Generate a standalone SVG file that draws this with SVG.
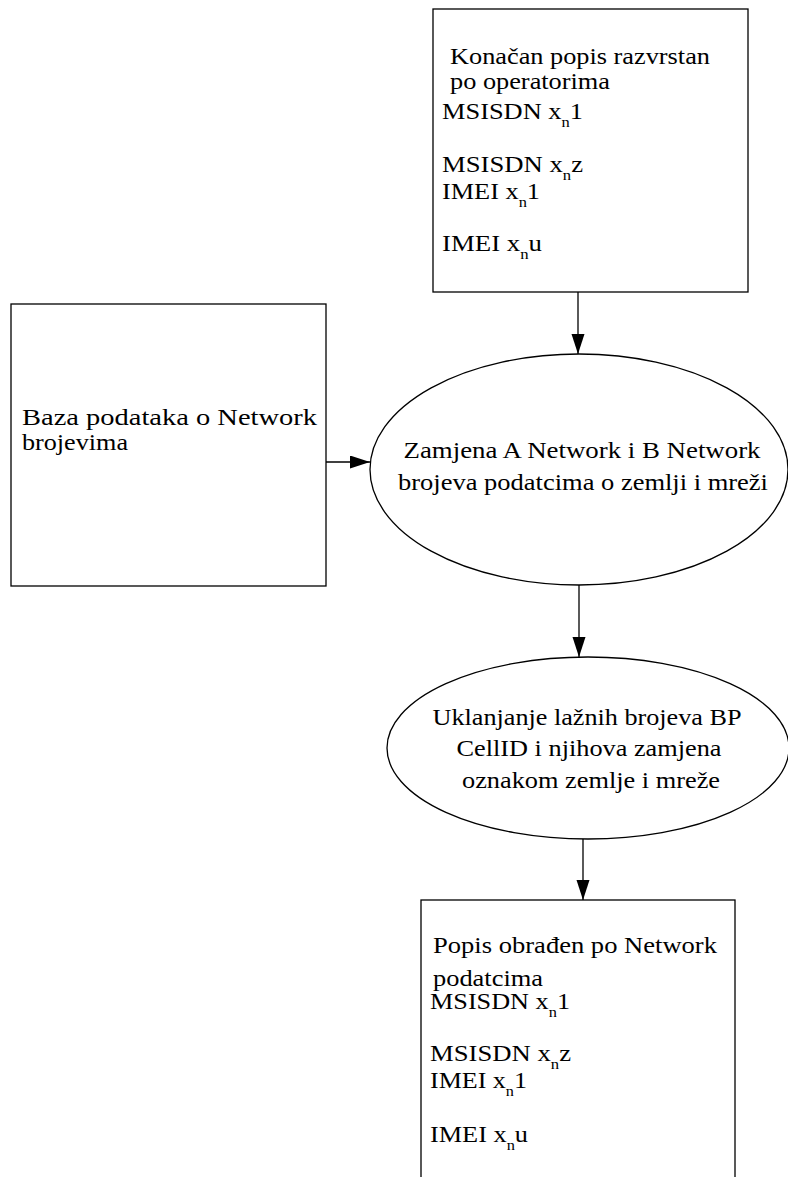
<svg xmlns="http://www.w3.org/2000/svg" width="788" height="1177" viewBox="0 0 788 1177">
<style>
.box{fill:#fff;stroke:#000;stroke-width:1.3}
.ell{fill:#fff;stroke:#000;stroke-width:1.3}
.t{font-family:"Liberation Serif","Times New Roman",serif;font-size:23px;fill:#000}
.m{font-size:24px}
.c{text-anchor:middle}
.sub{font-size:15px}
.edge{stroke:#000;stroke-width:1.3;fill:none;marker-end:url(#arr)}
</style>
<defs>
<marker id="arr" markerUnits="userSpaceOnUse" markerWidth="21" markerHeight="14" refX="20" refY="6.5" orient="auto">
<path d="M0,0 L20,6.5 L0,13 z" fill="#000"/>
</marker>
</defs>
<g id="connectors">
<line class="edge" x1="578" y1="292" x2="578" y2="354"/>
<line class="edge" x1="326" y1="462" x2="370" y2="462"/>
<line class="edge" x1="579" y1="585" x2="579" y2="657"/>
<line class="edge" x1="583" y1="839" x2="583" y2="900"/>
</g>
<g id="node-popis">
<rect class="box" x="433" y="9" width="315" height="283"/>
<text class="t" x="450" y="64" textLength="260" lengthAdjust="spacingAndGlyphs">Konačan popis razvrstan</text>
<text class="t" x="450" y="89" textLength="160" lengthAdjust="spacingAndGlyphs">po operatorima</text>
<text class="t m" x="442" y="119" textLength="141" lengthAdjust="spacingAndGlyphs">MSISDN x<tspan class="sub" dy="8">n</tspan><tspan dy="-8">1</tspan></text>
<text class="t m" x="442" y="172" textLength="141" lengthAdjust="spacingAndGlyphs">MSISDN x<tspan class="sub" dy="8">n</tspan><tspan dy="-8">z</tspan></text>
<text class="t m" x="442" y="199" textLength="98" lengthAdjust="spacingAndGlyphs">IMEI x<tspan class="sub" dy="8">n</tspan><tspan dy="-8">1</tspan></text>
<text class="t m" x="442" y="251" textLength="100" lengthAdjust="spacingAndGlyphs">IMEI x<tspan class="sub" dy="8">n</tspan><tspan dy="-8">u</tspan></text>
</g>
<g id="node-baza">
<rect class="box" x="11" y="304" width="315" height="282"/>
<text class="t" x="22" y="425" textLength="295" lengthAdjust="spacingAndGlyphs">Baza podataka o Network</text>
<text class="t" x="22" y="450" textLength="106" lengthAdjust="spacingAndGlyphs">brojevima</text>
</g>
<g id="node-zamjena">
<ellipse class="ell" cx="579" cy="469.5" rx="209" ry="115.5"/>
<text class="t c" x="582" y="458" textLength="357" lengthAdjust="spacingAndGlyphs">Zamjena A Network i B Network</text>
<text class="t c" x="583" y="490" textLength="370" lengthAdjust="spacingAndGlyphs">brojeva podatcima o zemlji i mreži</text>
</g>
<g id="node-uklanjanje">
<ellipse class="ell" cx="588" cy="748" rx="201" ry="91"/>
<text class="t c" x="587" y="725" textLength="309" lengthAdjust="spacingAndGlyphs">Uklanjanje lažnih brojeva BP</text>
<text class="t c" x="589" y="756" textLength="265" lengthAdjust="spacingAndGlyphs">CellID i njihova zamjena</text>
<text class="t c" x="591" y="788" textLength="258" lengthAdjust="spacingAndGlyphs">oznakom zemlje i mreže</text>
</g>
<g id="node-obraden">
<rect class="box" x="421" y="900" width="314" height="290"/>
<text class="t" x="433" y="953" textLength="284" lengthAdjust="spacingAndGlyphs">Popis obrađen po Network</text>
<text class="t" x="433" y="986" textLength="110" lengthAdjust="spacingAndGlyphs">podatcima</text>
<text class="t m" x="430" y="1009" textLength="140" lengthAdjust="spacingAndGlyphs">MSISDN x<tspan class="sub" dy="8">n</tspan><tspan dy="-8">1</tspan></text>
<text class="t m" x="430" y="1061" textLength="141" lengthAdjust="spacingAndGlyphs">MSISDN x<tspan class="sub" dy="8">n</tspan><tspan dy="-8">z</tspan></text>
<text class="t m" x="430" y="1088" textLength="97" lengthAdjust="spacingAndGlyphs">IMEI x<tspan class="sub" dy="8">n</tspan><tspan dy="-8">1</tspan></text>
<text class="t m" x="430" y="1142" textLength="98" lengthAdjust="spacingAndGlyphs">IMEI x<tspan class="sub" dy="8">n</tspan><tspan dy="-8">u</tspan></text>
</g>
</svg>
